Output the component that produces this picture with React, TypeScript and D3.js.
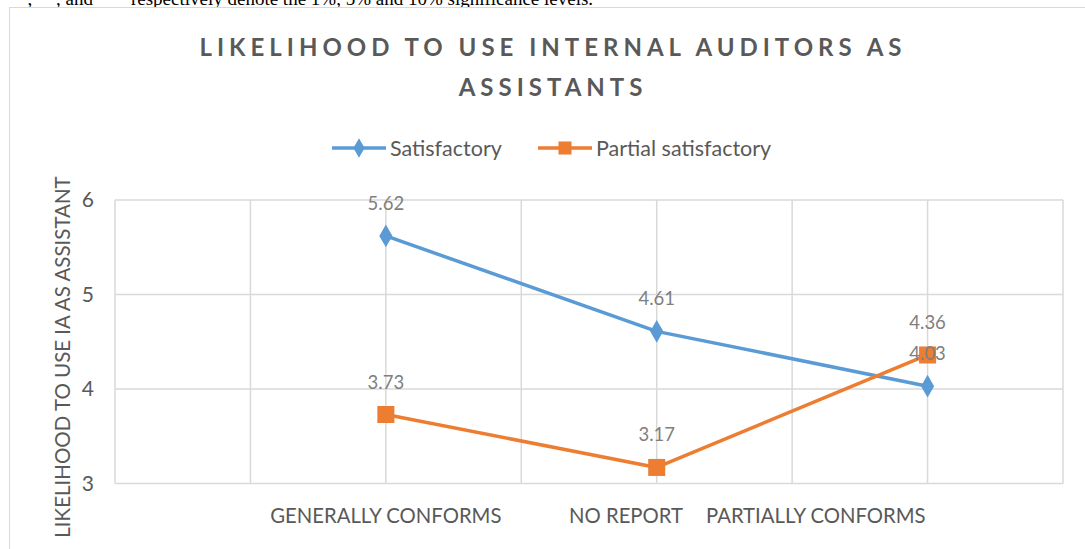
import React, { useRef, useEffect } from 'react';
import * as d3 from 'd3';

// chart data
const categories = ['GENERALLY CONFORMS', 'NO REPORT', 'PARTIALLY CONFORMS'];
const satisfactory = [5.62, 4.61, 4.03];
const partialSatisfactory = [3.73, 3.17, 4.36];
const yTicks = [3, 4, 5, 6];
const seriesNames = ['Satisfactory', 'Partial satisfactory'];

const W = 1085;
const H = 549;
const FONT = 'Lato, "Open Sans", sans-serif';
const TEXT = '#595959';
const GRID = '#d9d9d9';
const BLUE = '#5b9bd5';
const ORANGE = '#ed7d31';

const App = () => {
  const svgRef = useRef<SVGSVGElement>(null);

  useEffect(() => {
    const svg = d3.select(svgRef.current);
    svg.selectAll('*').remove();

    // text from the page above the chart, mostly cut off
    svg.append('text')
      .attr('x', 18).attr('y', 5)
      .attr('font-family', '"Liberation Serif", serif')
      .attr('font-size', 19)
      .attr('fill', '#000')
      .text('*, **, and *** respectively denote the 1%, 5% and 10% significance levels.');

    // chart frame
    svg.append('rect')
      .attr('x', 9.5).attr('y', 7.5)
      .attr('width', W + 20).attr('height', H + 20)
      .attr('fill', '#fff')
      .attr('stroke', GRID);

    // title
    const title = svg.append('text')
      .attr('text-anchor', 'middle')
      .attr('font-family', FONT)
      .attr('font-weight', 'bold')
      .attr('font-size', 24)
      .attr('letter-spacing', 5)
      .attr('fill', TEXT);
    title.append('tspan').attr('x', 553).attr('y', 56).text('LIKELIHOOD TO USE INTERNAL AUDITORS AS');
    title.append('tspan').attr('x', 553).attr('y', 96).text('ASSISTANTS');

    // scales
    const x = d3.scaleLinear().domain([0, 7]).range([115, 1063]);
    const y = d3.scaleLinear().domain([3, 6]).range([483.5, 200]);
    const catX = (i: number) => x(2 * i + 2);

    // gridlines
    svg.append('g')
      .selectAll('line')
      .data(d3.range(0, 8))
      .join('line')
      .attr('x1', d => x(d)).attr('x2', d => x(d))
      .attr('y1', y(6)).attr('y2', y(3))
      .attr('stroke', GRID).attr('stroke-width', 1.5);
    svg.append('g')
      .selectAll('line')
      .data(yTicks)
      .join('line')
      .attr('x1', x(0)).attr('x2', x(7))
      .attr('y1', d => y(d)).attr('y2', d => y(d))
      .attr('stroke', GRID).attr('stroke-width', 1.5);

    // y tick labels
    svg.append('g')
      .selectAll('text')
      .data(yTicks)
      .join('text')
      .attr('x', 94)
      .attr('y', d => y(d) + 7)
      .attr('text-anchor', 'end')
      .attr('font-family', FONT)
      .attr('font-size', 21)
      .attr('fill', TEXT)
      .text(d => d);

    // y axis title
    svg.append('text')
      .attr('transform', 'translate(70,357) rotate(-90)')
      .attr('text-anchor', 'middle')
      .attr('font-family', FONT)
      .attr('font-size', 20.5)
      .attr('fill', TEXT)
      .text('LIKELIHOOD TO USE IA AS ASSISTANT');

    // category labels, pushed apart like the spreadsheet does
    const catLabels = svg.append('g')
      .selectAll('text')
      .data(categories)
      .join('text')
      .attr('y', 523)
      .attr('font-family', FONT)
      .attr('font-size', 20.3)
      .attr('fill', TEXT)
      .text(d => d);
    const nodes = catLabels.nodes() as SVGTextElement[];
    const widths = nodes.map(n => n.getComputedTextLength());
    const last = nodes.length - 1;
    let right = catX(last);
    const starts: number[] = [];
    for (let i = last; i >= 0; i--) {
      let s = i === 0 ? catX(i) - widths[i] / 2 : Math.min(catX(i) - widths[i] / 2, right - widths[i]);
      if (i === last) s = catX(i) - widths[i] - 2;
      starts[i] = s;
      right = s - 23;
    }
    catLabels.attr('x', (d, i) => starts[i]);

    // series
    const series = [
      { name: seriesNames[0], values: satisfactory, color: BLUE, marker: d3.symbolDiamond, size: 150 },
      { name: seriesNames[1], values: partialSatisfactory, color: ORANGE, marker: d3.symbolSquare, size: 290 },
    ];
    const line = d3.line<number>().x((d, i) => catX(i)).y(d => y(d));

    series.forEach(s => {
      svg.append('path')
        .attr('d', line(s.values))
        .attr('fill', 'none')
        .attr('stroke', s.color)
        .attr('stroke-width', 3.5)
        .attr('stroke-linejoin', 'round');
      svg.append('g')
        .selectAll('path')
        .data(s.values)
        .join('path')
        .attr('transform', (d, i) => `translate(${catX(i)},${y(d)})`)
        .attr('d', d3.symbol().type(s.marker).size(s.size)())
        .attr('fill', s.color);
    });

    // data labels
    series.forEach(s => {
      svg.append('g')
        .selectAll('text')
        .data(s.values)
        .join('text')
        .attr('x', (d, i) => catX(i))
        .attr('y', d => y(d) - 26)
        .attr('text-anchor', 'middle')
        .attr('font-family', FONT)
        .attr('font-size', 18.5)
        .attr('fill', '#7f7f7f')
        .text(d => d.toFixed(2));
    });

    // legend
    const legendX = [332, 538];
    series.forEach((s, i) => {
      const g = svg.append('g').attr('transform', `translate(${legendX[i]},148)`);
      g.append('line')
        .attr('x1', 0).attr('x2', 54)
        .attr('stroke', s.color).attr('stroke-width', 3.5);
      g.append('path')
        .attr('transform', 'translate(27,0)')
        .attr('d', d3.symbol().type(s.marker).size(i === 0 ? 110 : 170)())
        .attr('fill', s.color);
      g.append('text')
        .attr('x', 58).attr('y', 8)
        .attr('font-family', FONT)
        .attr('font-size', 21.5)
        .attr('fill', TEXT)
        .text(s.name);
    });
  }, []);

  return (
    <svg
      ref={svgRef}
      width={W}
      height={H}
      style={{ position: 'absolute', left: 0, top: 0, background: '#fff' }}
    />
  );
};

export default App;
